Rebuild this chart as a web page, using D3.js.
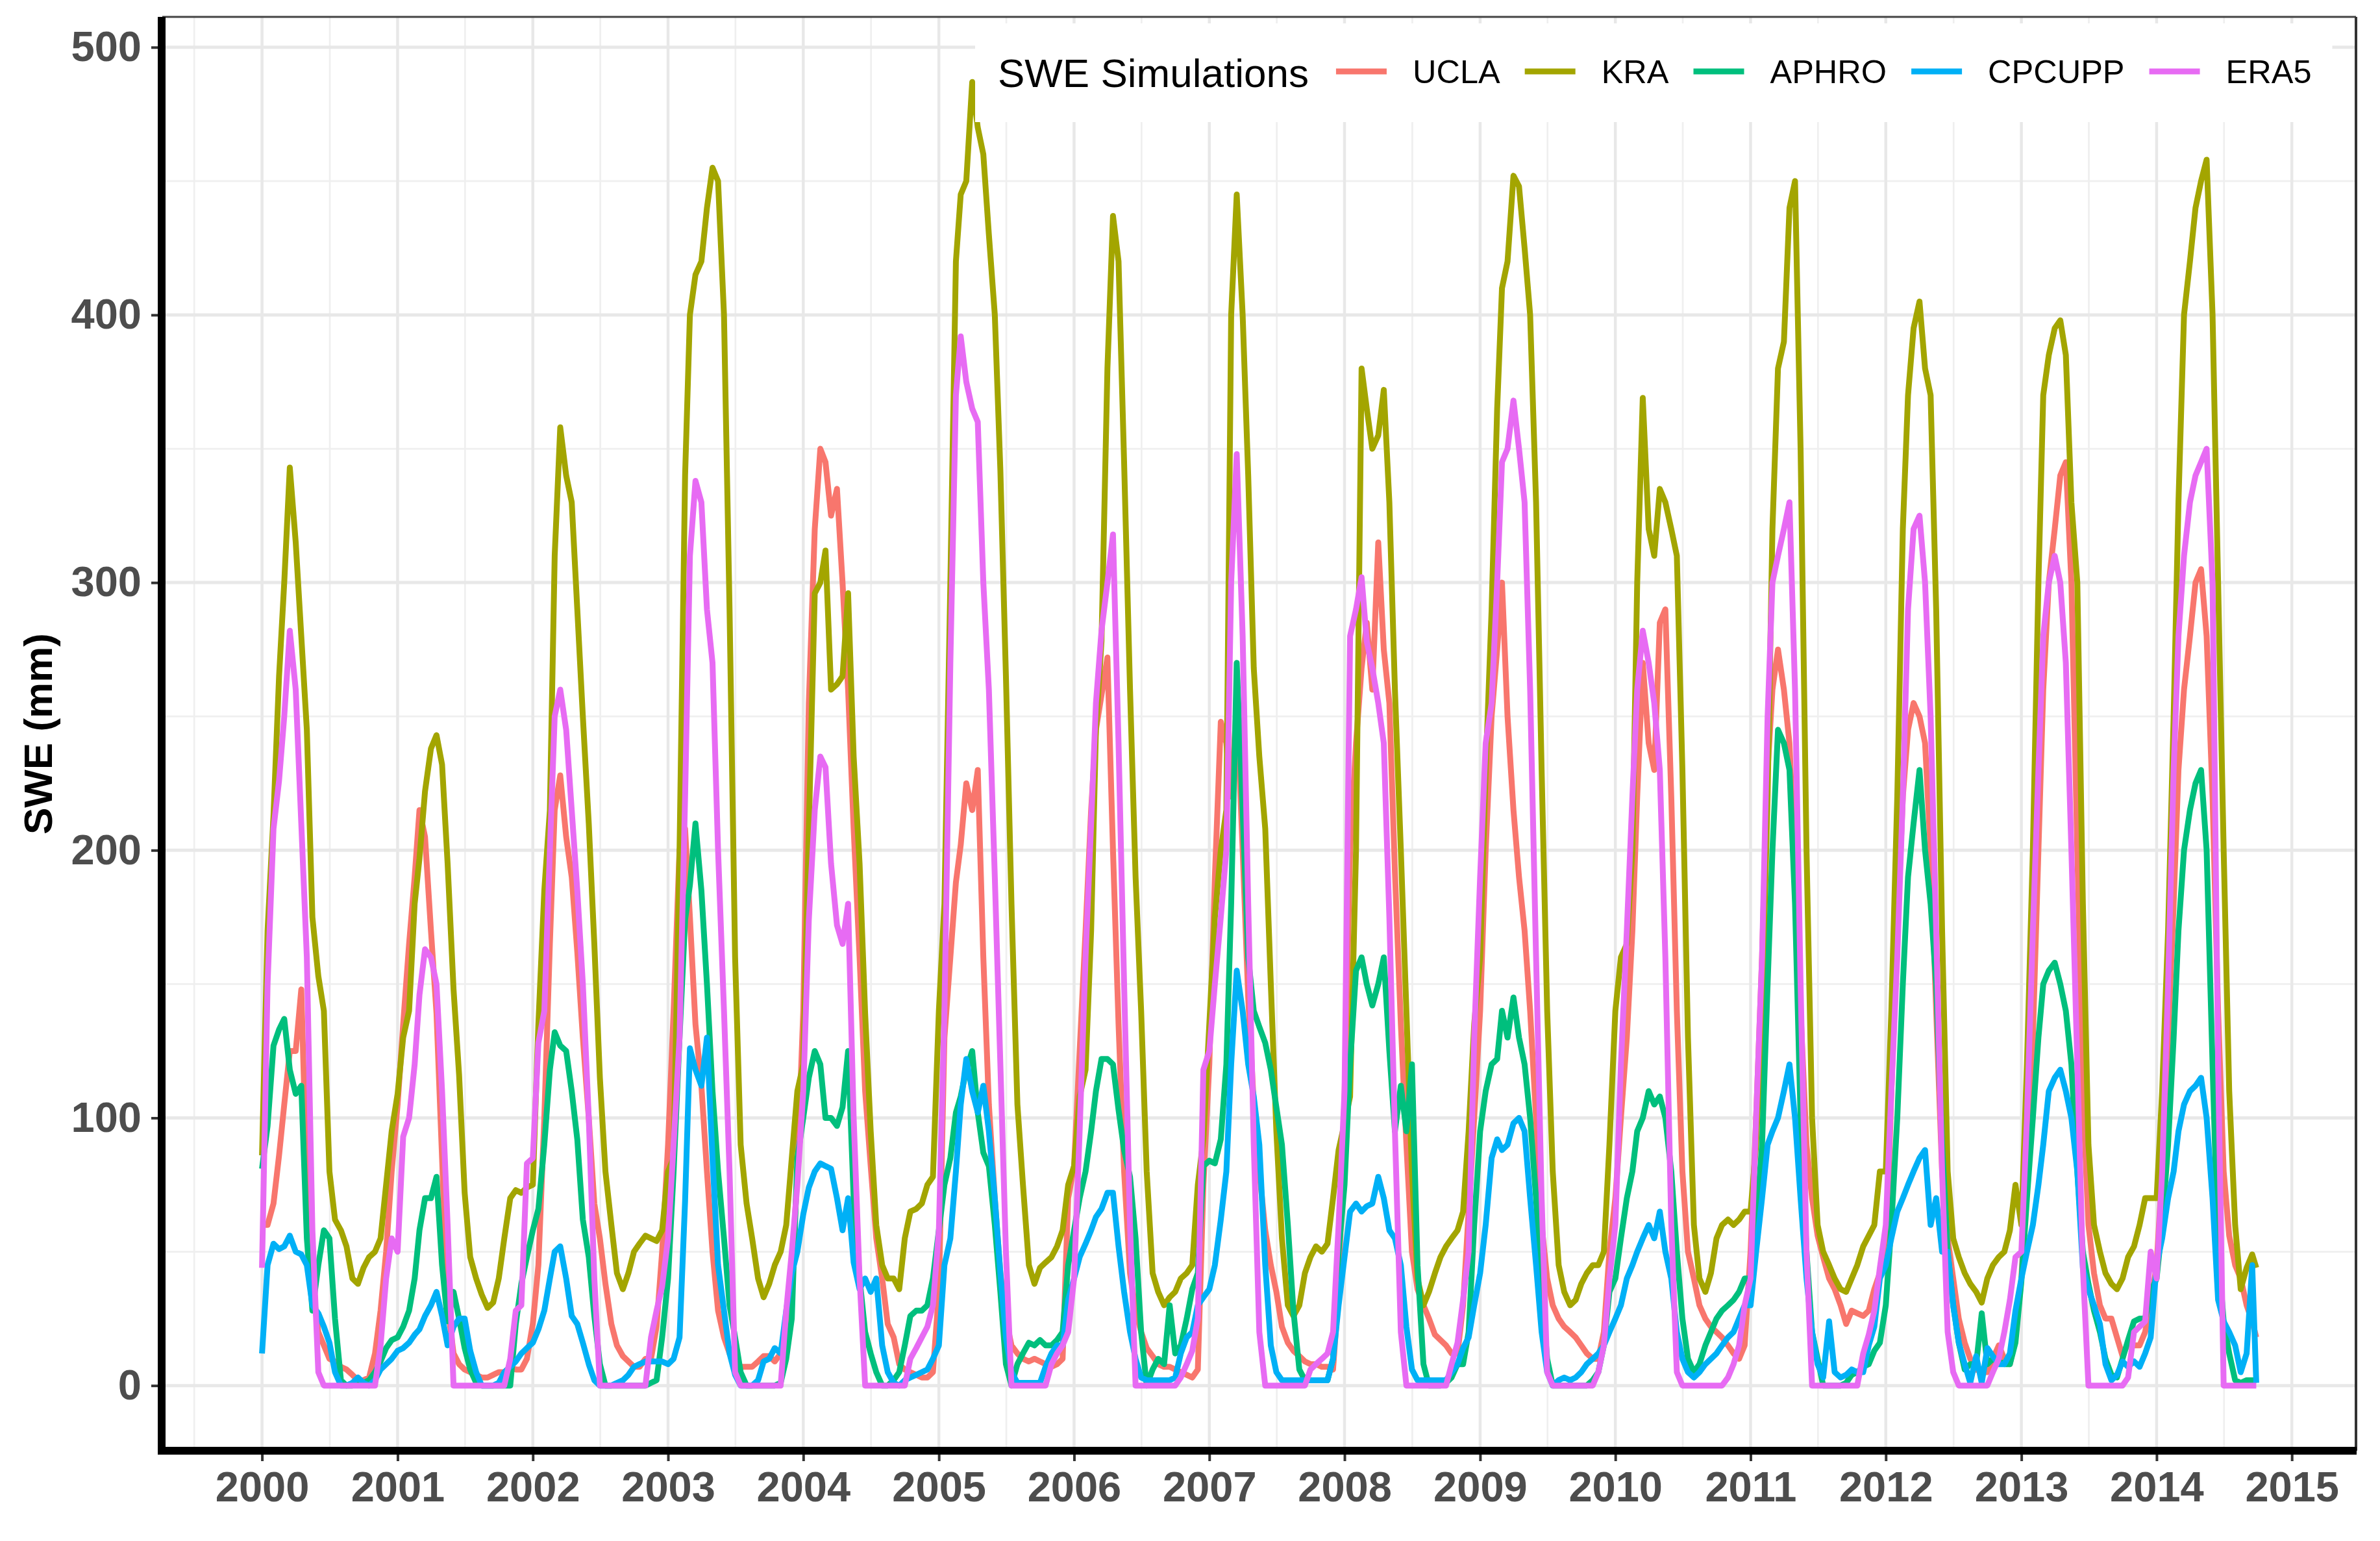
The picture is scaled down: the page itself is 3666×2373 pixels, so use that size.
<!DOCTYPE html>
<html><head><meta charset="utf-8">
<script src="https://cdn.jsdelivr.net/npm/d3@7"></script>
<style>html,body{margin:0;padding:0;background:#fff}svg{display:block}</style>
</head><body>
<svg id="c" width="3666" height="2373"></svg>
<script>
// ---------------- DATA (semi-monthly SWE, mm; 1st & 16th of each month, 2000-01-01 .. 2014-09-27) ----------------
const seriesNames = ["UCLA", "KRA", "APHRO", "CPCUPP", "ERA5"];
const seriesColors = ["#F8766D", "#A3A500", "#00BF7D", "#00B0F6", "#E76BF3"];
const yTickValues = [0, 100, 200, 300, 400, 500];
const xTickYears = [2000,2001,2002,2003,2004,2005,2006,2007,2008,2009,2010,2011,2012,2013,2014,2015];
const legendTitle = "SWE Simulations";
const yTitle = "SWE (mm)";

const UCLA = [
 60,60,68,86,105,125,125,148,75,38,20,15,10,9,7,6,4,2,2,3,12,28,50,80,
 105,135,165,190,215,205,170,139,85,30,12,8,6,5,4,3,3,4,5,5,7,6,6,10,
 23,45,100,165,215,228,205,190,162,130,100,68,55,38,23,15,11,9,7,7,10,10,22,50,
 90,140,200,208,175,135,112,80,50,28,18,12,9,7,7,7,9,11,11,9,12,18,40,80,
 140,255,320,350,345,325,335,300,260,208,160,110,82,55,40,23,18,8,6,5,4,3,3,5,
 35,130,160,188,202,225,215,230,160,105,70,42,25,15,12,10,9,10,9,8,7,8,10,70,
 82,125,170,215,245,258,272,200,135,80,42,28,20,14,11,8,7,7,6,5,4,3,6,75,
 120,190,248,240,220,255,200,145,105,80,58,45,35,22,16,13,11,9,8,8,7,7,6,35,
 108,200,240,268,285,260,315,275,255,192,135,90,50,36,30,25,19,17,15,12,12,30,65,100,
 140,200,250,275,300,250,215,190,170,140,100,60,40,30,25,22,20,18,15,12,10,10,20,50,
 70,100,130,170,220,270,240,230,285,290,220,140,80,50,40,30,25,22,20,18,15,12,10,15,
 50,100,160,230,260,275,260,240,190,140,90,70,56,48,40,36,30,23,28,27,26,28,36,42,
 45,110,170,220,245,255,250,240,200,140,80,55,40,25,16,10,6,5,5,10,15,10,8,18,
 40,80,130,200,260,300,320,340,345,300,200,110,60,42,30,25,25,18,11,16,15,15,20,30,
 45,80,130,180,230,260,280,300,305,280,220,140,80,56,45,40,30,24,18
];
const KRA = [
 86,170,213,265,300,343,315,280,245,175,153,140,80,62,58,52,40,38,44,48,50,55,75,95,
 109,130,140,180,197,222,238,243,232,195,148,116,72,48,40,34,29,31,40,55,70,73,72,74,
 75,135,185,215,310,358,340,330,290,250,210,165,115,80,60,42,36,42,50,53,56,55,54,58,
 80,85,200,340,400,415,420,440,455,450,400,290,160,90,68,55,40,33,38,45,50,60,85,110,
 120,208,296,300,312,260,262,265,296,235,195,139,95,60,45,40,40,36,55,65,66,68,75,78,
 140,180,300,420,445,450,487,470,460,430,400,342,265,180,105,75,45,38,44,46,48,52,58,75,
 82,108,118,170,245,278,380,437,420,345,260,190,140,80,42,35,30,33,35,40,42,45,75,92,
 135,175,200,215,400,445,400,340,268,235,208,150,95,55,30,26,30,42,48,52,50,53,70,88,
 98,108,200,380,365,350,355,372,330,260,200,140,80,40,30,35,42,48,52,55,58,65,95,135,
 160,230,290,365,410,420,452,448,425,400,330,230,140,80,45,35,30,32,38,42,45,45,50,90,
 140,160,165,200,300,369,320,310,335,330,320,310,230,130,60,40,35,42,55,60,62,60,62,65,
 65,90,140,220,320,380,390,440,450,350,200,100,60,50,45,40,36,35,40,45,52,56,60,80,
 80,140,220,320,370,395,405,380,370,290,170,80,55,48,42,38,35,31,40,45,48,50,58,75,
 60,120,200,300,370,385,395,398,385,330,300,180,90,60,50,42,38,36,40,48,52,60,70,70,
 70,110,170,250,330,400,420,440,450,458,400,300,200,110,60,36,44,49,44
];
const APHRO = [
 81,97,127,133,137,118,109,112,55,28,45,58,55,25,2,0,0,1,1,2,5,9,14,17,
 18,22,28,40,58,70,70,78,45,24,35,25,14,6,1,0,0,0,0,0,0,23,38,48,
 58,66,90,118,132,127,125,110,92,62,48,26,8,0,0,0,0,0,0,0,0,1,2,18,
 40,80,130,174,187,210,185,150,110,80,55,30,18,5,0,0,0,0,0,0,1,10,25,85,
 100,115,125,120,100,100,97,104,125,70,40,20,12,5,0,0,2,5,15,26,28,28,30,40,
 58,75,85,102,108,118,125,102,87,82,60,35,8,0,8,12,16,15,17,15,15,17,20,45,
 58,70,80,95,110,122,122,120,103,88,78,55,20,0,6,10,8,30,12,15,25,36,42,82,
 84,83,92,120,180,270,215,160,140,134,128,118,104,90,60,28,6,2,2,2,2,2,10,50,
 75,120,155,160,150,142,150,160,125,95,112,95,120,45,8,0,0,0,1,3,8,8,20,60,
 95,110,120,122,140,130,145,130,120,100,70,35,10,0,0,0,0,0,0,0,2,5,15,35,
 40,55,70,80,95,100,110,105,108,100,80,50,25,10,5,8,15,20,25,28,30,32,35,40,
 40,60,90,150,200,245,240,230,180,100,50,20,10,0,0,0,0,1,4,5,7,8,13,16,
 30,60,100,150,190,210,230,200,180,150,90,50,30,16,6,8,8,27,8,10,9,8,8,16,
 39,70,100,130,150,155,158,150,140,120,80,50,38,28,20,10,4,3,10,17,24,25,25,35,
 40,60,90,130,170,200,215,225,230,200,120,50,24,12,2,1,2,2,2
];
const CPCUPP = [
 12,45,53,51,52,56,50,49,45,30,27,22,16,5,0,0,1,3,1,0,2,6,8,10,
 13,14,16,19,21,26,30,35,26,15,22,25,25,13,5,0,0,0,1,5,7,9,12,14,
 16,21,28,40,50,52,40,26,23,16,8,2,0,0,0,1,2,4,7,8,9,9,9,9,
 8,10,18,69,126,118,112,130,85,45,28,12,4,0,0,0,2,9,10,14,12,28,42,50,
 64,74,80,83,82,81,70,58,70,46,36,40,35,40,15,5,1,0,2,3,4,5,6,10,
 15,45,55,80,105,122,110,102,112,95,70,42,18,5,1,1,1,1,1,7,12,15,15,32,
 40,48,53,58,63,66,72,72,52,35,20,10,3,2,2,2,2,2,3,12,18,20,30,33,
 36,45,62,80,120,155,140,120,108,90,45,15,5,2,2,2,2,2,2,2,2,2,10,30,
 48,65,68,65,67,68,78,70,58,55,45,22,6,2,2,2,2,2,2,5,8,14,18,30,
 42,60,85,92,88,90,98,100,95,70,45,20,5,0,2,3,2,3,5,8,10,12,15,20,
 25,30,40,45,50,55,60,55,65,50,40,20,10,5,3,5,8,10,12,15,18,20,25,30,
 30,50,70,90,95,100,110,120,100,70,40,20,8,3,24,5,3,4,6,5,5,15,22,40,
 45,55,65,70,75,80,85,88,60,70,50,50,30,16,8,1,11,1,14,11,8,8,12,28,
 40,50,60,75,90,110,115,118,110,100,80,44,36,30,23,8,2,4,9,7,9,7,12,18,
 45,55,70,80,95,105,110,112,115,100,70,32,24,20,15,5,12,45,1
];
const ERA5 = [
 44,150,208,226,250,282,260,210,160,58,5,0,0,0,0,0,0,0,0,0,0,15,40,55,
 50,93,100,120,146,163,160,150,110,60,0,0,0,0,0,0,0,0,0,0,10,28,30,83,
 85,128,140,200,250,260,245,215,185,150,100,40,0,0,0,0,0,0,0,0,0,18,28,37,
 55,90,130,220,310,338,330,290,270,200,140,80,5,0,0,0,0,0,0,0,0,28,50,75,
 110,174,215,235,231,195,172,165,180,100,40,0,0,0,0,0,0,0,0,10,14,18,22,30,
 58,140,270,370,392,375,365,360,300,260,190,120,50,0,0,0,0,0,0,0,8,12,15,20,
 40,95,160,210,255,282,300,318,240,150,60,0,0,0,0,0,0,0,0,3,8,13,25,118,
 125,150,175,200,300,348,280,180,90,20,0,0,0,0,0,0,0,0,6,8,10,12,20,60,
 110,280,290,302,278,268,255,240,175,95,20,0,0,0,0,0,0,0,0,8,16,32,50,130,
 190,240,255,300,345,350,368,350,330,260,160,70,5,0,0,0,0,0,0,0,0,5,15,40,
 60,120,170,220,260,282,270,255,230,160,60,5,0,0,0,0,0,0,0,0,3,8,15,30,
 40,100,160,250,300,310,320,330,260,150,50,0,0,0,0,0,0,0,0,0,12,19,28,44,
 60,110,160,220,290,320,325,300,250,170,80,20,5,0,0,0,0,0,0,5,10,20,32,48,
 50,100,170,230,280,300,310,300,270,200,120,44,0,0,0,0,0,0,0,3,20,22,24,50,
 40,80,150,230,280,310,330,340,345,350,300,120,0,0,0,0,0,0,0
];
const seriesValues = [UCLA, KRA, APHRO, CPCUPP, ERA5];

// sampling dates: 1st and 16th of each month, last sample 2014-09-27
const dates = [];
for (let i = 0; i < 354; i++) {
  dates.push(new Date(Date.UTC(2000 + Math.floor(i / 24), Math.floor((i % 24) / 2), i % 2 ? 16 : 1)));
}
dates.push(new Date(Date.UTC(2014, 8, 27)));

// ---------------- LAYOUT ----------------
const P = {left: 250, right: 3629, top: 26, bottom: 2234};
const FONT = "'Liberation Sans', Arial, Helvetica, sans-serif";
const svg = d3.select("#c");
svg.append("rect").attr("width", 3666).attr("height", 2373).attr("fill", "#fff");

const yMax = d3.max(seriesValues, a => d3.max(a));
const t0 = +dates[0], t1 = +dates[dates.length - 1], span = t1 - t0;
const x = d3.scaleUtc().domain([new Date(t0 - 0.05 * span), new Date(t1 + 0.05 * span)]).range([P.left, P.right]);
const y = d3.scaleLinear().domain([-0.05 * yMax, yMax * 1.05]).range([P.bottom, P.top]);

// grid
const g = svg.append("g");
const minorX = d3.range(1999, 2016).map(yr => new Date(Date.UTC(yr, 6, 2))).filter(d => x(d) > P.left && x(d) < P.right);
const majorX = xTickYears.map(yr => new Date(Date.UTC(yr, 0, 1)));
const minorY = [50, 150, 250, 350, 450];
g.selectAll(".mx").data(minorX).join("line")
  .attr("x1", d => x(d)).attr("x2", d => x(d)).attr("y1", P.top).attr("y2", P.bottom)
  .attr("stroke", "#EFEFEF").attr("stroke-width", 2.7);
g.selectAll(".my").data(minorY).join("line")
  .attr("x1", P.left).attr("x2", P.right).attr("y1", d => y(d)).attr("y2", d => y(d))
  .attr("stroke", "#EFEFEF").attr("stroke-width", 2.7);
g.selectAll(".Mx").data(majorX).join("line")
  .attr("x1", d => x(d)).attr("x2", d => x(d)).attr("y1", P.top).attr("y2", P.bottom)
  .attr("stroke", "#E8E8E8").attr("stroke-width", 4.5);
g.selectAll(".My").data(yTickValues).join("line")
  .attr("x1", P.left).attr("x2", P.right).attr("y1", d => y(d)).attr("y2", d => y(d))
  .attr("stroke", "#E8E8E8").attr("stroke-width", 5);

// lines
const line = d3.line().x((d, i) => x(dates[i])).y(d => y(d));
const lg = svg.append("g");
seriesNames.forEach((name, si) => {
  lg.append("path").datum(seriesValues[si])
    .attr("d", line)
    .attr("fill", "none")
    .attr("stroke", seriesColors[si])
    .attr("stroke-width", 9)
    .attr("stroke-linejoin", "round");
});

// legend
const leg = svg.append("g");
const legBg = leg.append("rect").attr("fill", "#fff");
const title = leg.append("text").text(legendTitle)
  .attr("x", 1537).attr("y", 134).attr("font-family", FONT).attr("font-size", 62).attr("fill", "#000");
let cx = 1537 + title.node().getComputedTextLength() + 42;
seriesNames.forEach((name, si) => {
  leg.append("line").attr("x1", cx).attr("x2", cx + 78).attr("y1", 110).attr("y2", 110)
    .attr("stroke", seriesColors[si]).attr("stroke-width", 9);
  const tx = leg.append("text").text(name).attr("x", cx + 118).attr("y", 128)
    .attr("font-family", FONT).attr("font-size", 50.5).attr("fill", "#000");
  cx = cx + 118 + tx.node().getComputedTextLength() + 38;
});
legBg.attr("x", 1502).attr("y", 36).attr("width", cx - 38 + 32 - 1502).attr("height", 152);

// border (top/right)
svg.append("line").attr("x1", P.left).attr("x2", P.right).attr("y1", P.top).attr("y2", P.top)
  .attr("stroke", "#444").attr("stroke-width", 3);
svg.append("line").attr("x1", P.right).attr("x2", P.right).attr("y1", P.top).attr("y2", P.bottom)
  .attr("stroke", "#333").attr("stroke-width", 4);

// axes
const yAxis = svg.append("g").attr("transform", `translate(${P.left},0)`)
  .call(d3.axisLeft(y).tickValues(yTickValues).tickSize(17).tickPadding(15).tickFormat(d3.format("d")));
const xAxis = svg.append("g").attr("transform", `translate(0,${P.bottom})`)
  .call(d3.axisBottom(x).tickValues(majorX).tickSize(16).tickPadding(16).tickFormat(d3.utcFormat("%Y")));
[yAxis, xAxis].forEach(a => {
  a.select(".domain").remove();
  a.selectAll(".tick line").attr("stroke", "#333").attr("stroke-width", 4);
  a.selectAll(".tick text").attr("font-family", FONT).attr("font-weight", "bold")
    .attr("font-size", 65).attr("fill", "#4D4D4D");
});

// thick axis lines
svg.append("line").attr("x1", P.left - 1).attr("x2", P.left - 1).attr("y1", P.top).attr("y2", P.bottom + 6)
  .attr("stroke", "#000").attr("stroke-width", 12);
svg.append("line").attr("x1", P.left - 6).attr("x2", P.right + 1).attr("y1", P.bottom).attr("y2", P.bottom)
  .attr("stroke", "#000").attr("stroke-width", 12);

// y title
svg.append("text").text(yTitle)
  .attr("transform", `translate(80,${(P.top + P.bottom) / 2}) rotate(-90)`)
  .attr("text-anchor", "middle").attr("font-family", FONT).attr("font-weight", "bold")
  .attr("font-size", 62).attr("fill", "#000");
</script>
</body></html>
